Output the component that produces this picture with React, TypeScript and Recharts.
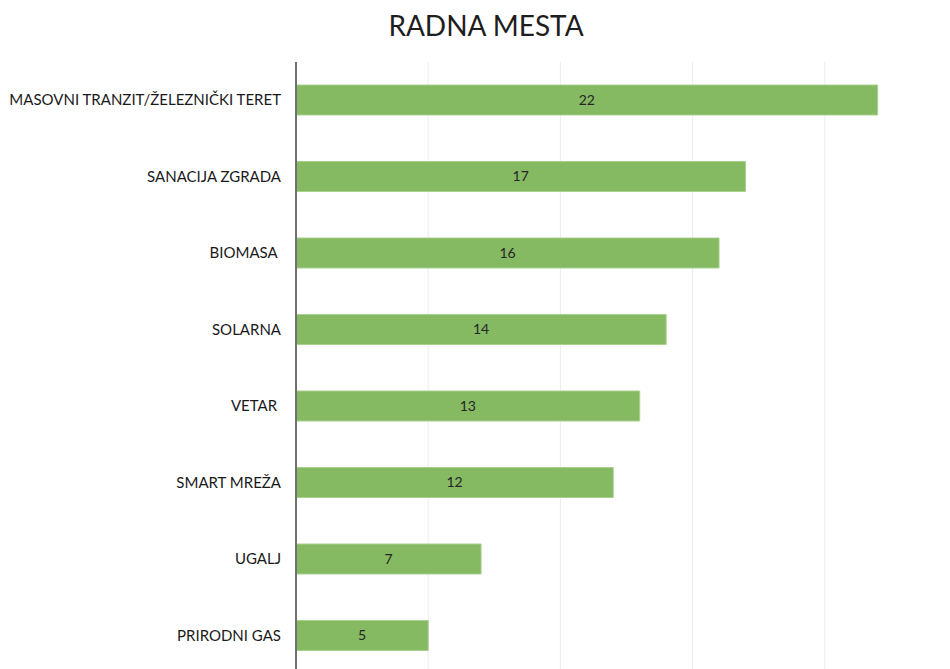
import { BarChart, Bar, XAxis, YAxis, CartesianGrid, LabelList } from 'recharts';

const categories = [
  'MASOVNI TRANZIT/ŽELEZNIČKI TERET',
  'SANACIJA ZGRADA',
  'BIOMASA\u00A0',
  'SOLARNA',
  'VETAR\u00A0',
  'SMART MREŽA',
  'UGALJ',
  'PRIRODNI GAS',
];
const values = [22, 17, 16, 14, 13, 12, 7, 5];
const xTicks = [0, 5, 10, 15, 20, 25];

const data = categories.map((name, i) => ({ name, value: values[i] }));

const FONT = 'Lato, "Open Sans", sans-serif';

// single-line category label, right aligned against the axis
const CategoryTick = (props: any) => {
  const { x, y, payload } = props;
  return (
    <text
      x={x}
      y={y}
      dy={5}
      textAnchor="end"
      fill="#1a1a1a"
      fontSize={15}
      fontFamily={FONT}
    >
      {payload.value}
    </text>
  );
};

export default function App() {
  return (
    <div
      style={{
        position: 'fixed',
        left: 0,
        top: 0,
        width: 950,
        height: 669,
        overflow: 'hidden',
        background: '#fff',
        fontFamily: FONT,
      }}
    >
      <div
        style={{
          position: 'absolute',
          left: 0,
          width: 972,
          top: 6,
          textAlign: 'center',
          fontSize: 28,
          color: '#1e1e1e',
          lineHeight: '38px',
        }}
      >
        RADNA MESTA
      </div>
      <BarChart
        width={980}
        height={680}
        data={data}
        layout="vertical"
        margin={{ top: 62, right: 23, bottom: 6, left: 0 }}
      >
        <CartesianGrid horizontal={false} stroke="#ececec" />
        <XAxis type="number" domain={[0, 25]} ticks={xTicks} hide />
        <YAxis
          type="category"
          dataKey="name"
          width={296}
          tickSize={0}
          tickMargin={15}
          axisLine={{ stroke: '#707070', strokeWidth: 2 }}
          tick={<CategoryTick />}
          interval={0}
        />
        <Bar
          dataKey="value"
          fill="#85b962"
          stroke="#a9d18e"
          strokeWidth={1}
          barSize={30}
          isAnimationActive={false}
        >
          <LabelList
            dataKey="value"
            position="center"
            fill="#262626"
            fontSize={14}
            fontFamily={FONT}
          />
        </Bar>
      </BarChart>
    </div>
  );
}
